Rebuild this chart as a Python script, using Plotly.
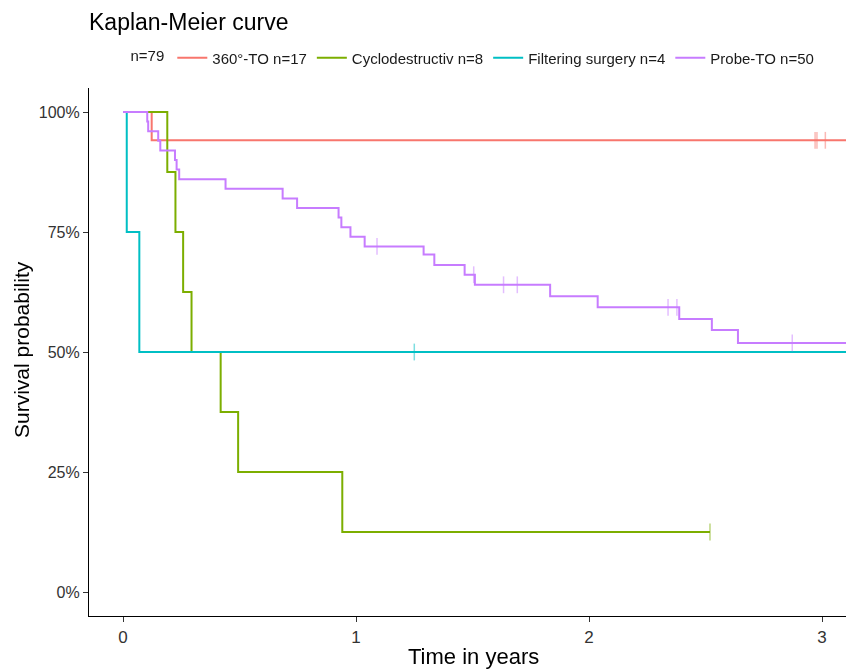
import numpy as np
import plotly.graph_objects as go

# ---- data ----
groups = ["360°-TO n=17", "Cyclodestructiv n=8", "Filtering surgery n=4", "Probe-TO n=50"]
colors = ["#F8766D", "#7CAE00", "#00BFC4", "#C77CFF"]

red_time = [0, 0.123, 3.137]
red_surv = [1.0, 0.941, 0.941]
red_cens = [2.970, 2.978, 3.014, 3.130]

green_time = [0, 0.190, 0.225, 0.258, 0.294, 0.419, 0.494, 0.941, 2.519]
green_surv = [1.0, 0.875, 0.75, 0.625, 0.5, 0.375, 0.25, 0.125, 0.125]
green_cens = [2.519]

cyan_time = [0, 0.016, 0.070, 3.137]
cyan_surv = [1.0, 0.75, 0.5, 0.5]
cyan_cens = [1.25]

purple_time = [0, 0.104, 0.108, 0.151, 0.160, 0.223, 0.230, 0.241, 0.440, 0.685, 0.747,
               0.925, 0.937, 0.976, 1.037, 1.290, 1.336, 1.466, 1.510, 1.833, 2.037,
               2.387, 2.527, 2.639, 3.137]
purple_surv = [1.0, 0.98, 0.96, 0.94, 0.92, 0.90, 0.88, 0.86, 0.84, 0.82, 0.80,
               0.78, 0.76, 0.74, 0.72, 0.703, 0.681, 0.661, 0.640, 0.616, 0.593,
               0.569, 0.546, 0.519, 0.519]
purple_cens = [1.09, 1.505, 1.633, 1.692, 2.339, 2.377, 2.872]

n_total = "n=79"
y_ticks = [0, 0.25, 0.5, 0.75, 1.0]
y_labels = ["0%", "25%", "50%", "75%", "100%"]
x_ticks = [0, 1, 2, 3]

series = [
    (red_time, red_surv, red_cens),
    (green_time, green_surv, green_cens),
    (cyan_time, cyan_surv, cyan_cens),
    (purple_time, purple_surv, purple_cens),
]


def step_value(times, surv, t):
    idx = np.searchsorted(np.array(times), t, side="right") - 1
    return surv[max(idx, 0)]


fig = go.Figure()
for (t, s, c), name, col in zip(series, groups, colors):
    fig.add_trace(go.Scatter(
        x=t, y=s, mode="lines", line=dict(color=col, width=2, shape="hv"),
        name=name, legendgroup=name, showlegend=True,
        hoverinfo="skip",
    ))
for (t, s, c), name, col in zip(series, groups, colors):
    cy = [step_value(t, s, ci) for ci in c]
    fig.add_trace(go.Scatter(
        x=c, y=cy, mode="markers",
        marker=dict(symbol="line-ns", size=12, line=dict(color=col, width=1.5)),
        opacity=0.5, legendgroup=name, showlegend=False, hoverinfo="skip",
        cliponaxis=False,
    ))

font_family = "Liberation Sans, Arial, sans-serif"
# the page body adds an 8px offset; work in page pixels and subtract it
OFF = 8
W, H = 854 - OFF, 669 - OFF
ML, MR, MT, MB = 89 - OFF, 0, 88 - OFF, 669 - 616
PW, PH = W - ML - MR, H - MT - MB


def px_x(page_x):
    return (page_x - OFF - ML) / PW


def px_y(page_y):
    return (H - MB - (page_y - OFF)) / PH


fig.update_layout(
    width=W, height=H,
    margin=dict(l=ML, r=MR, t=MT, b=MB, autoexpand=False),
    paper_bgcolor="white", plot_bgcolor="white",
    font=dict(family=font_family, color="#1a1a1a"),
    title=dict(text="Kaplan-Meier curve", x=(89 - OFF) / W, xref="container", xanchor="left",
               y=1 - (22 - OFF) / H, yref="container", yanchor="middle",
               font=dict(size=23, color="black")),
    legend=dict(orientation="h", x=px_x(474), xanchor="center", y=px_y(58),
                yanchor="middle",
                title=dict(text=n_total, side="left", font=dict(size=15)),
                font=dict(size=15, color="#1a1a1a"), itemwidth=30,
                bgcolor="rgba(0,0,0,0)"),
    showlegend=True,
    annotations=[
        dict(text="Time in years", xref="paper", yref="paper",
             x=px_x(473), y=px_y(656),
             xanchor="center", yanchor="middle", showarrow=False,
             font=dict(size=22, color="black")),
        dict(text="Survival probability", xref="paper", yref="paper",
             x=px_x(21), y=px_y(350), textangle=-90,
             xanchor="center", yanchor="middle", showarrow=False,
             font=dict(size=21, color="black")),
    ],
)
fig.update_xaxes(
    range=[-0.146, 3.137], tickvals=x_ticks, ticktext=[str(v) for v in x_ticks],
    showgrid=False, zeroline=False, showline=True, linecolor="black", linewidth=1.2,
    ticks="outside", ticklen=5, tickcolor="#333", tickwidth=1,
    tickfont=dict(size=17, color="#333"), automargin=False,
)
fig.update_yaxes(
    range=[-0.05, 1.05], tickvals=y_ticks, ticktext=y_labels,
    showgrid=False, zeroline=False, showline=True, linecolor="black", linewidth=1.2,
    ticks="outside", ticklen=5, tickcolor="#333", tickwidth=1,
    tickfont=dict(size=16, color="#333"), automargin=False,
)

fig.write_html("out.html")
